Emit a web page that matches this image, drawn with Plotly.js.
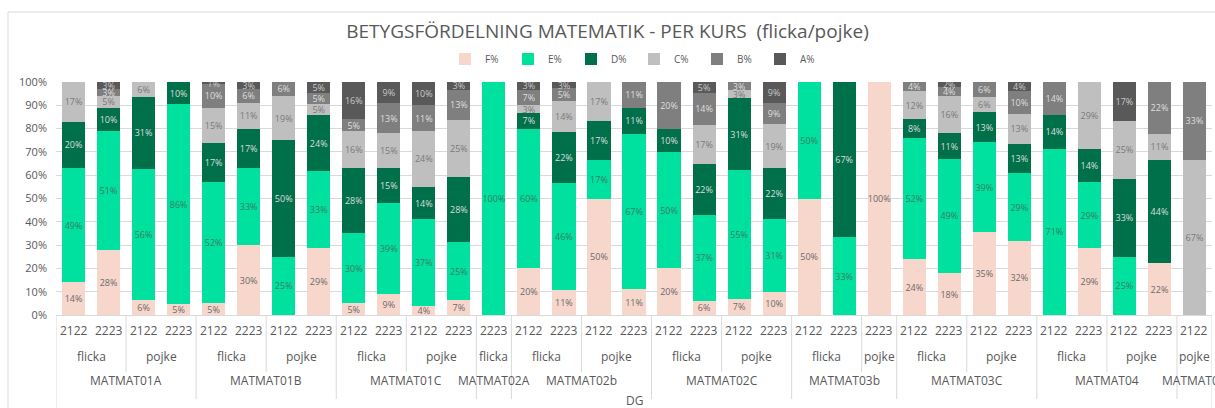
<!DOCTYPE html>
<html>
<head>
<meta charset="utf-8">
<script src="https://cdn.plot.ly/plotly-3.0.1.min.js"></script>
<style>html,body{margin:0;padding:0;background:#fff;}#chart{width:1215px;height:408px;}</style>
</head>
<body>
<div id="chart"></div>
<script>
// ---- data (per bar, left to right) ----
const courses = ['MATMAT01A','MATMAT01A','MATMAT01A','MATMAT01A',
  'MATMAT01B','MATMAT01B','MATMAT01B','MATMAT01B',
  'MATMAT01C','MATMAT01C','MATMAT01C','MATMAT01C',
  'MATMAT02A',
  'MATMAT02b','MATMAT02b','MATMAT02b','MATMAT02b',
  'MATMAT02C','MATMAT02C','MATMAT02C','MATMAT02C',
  'MATMAT03b','MATMAT03b','MATMAT03b',
  'MATMAT03C','MATMAT03C','MATMAT03C','MATMAT03C',
  'MATMAT04','MATMAT04','MATMAT04','MATMAT04',
  'MATMAT05'];
const genders = ['flicka','flicka','pojke','pojke',
  'flicka','flicka','pojke','pojke',
  'flicka','flicka','pojke','pojke',
  'flicka',
  'flicka','flicka','pojke','pojke',
  'flicka','flicka','pojke','pojke',
  'flicka','flicka','pojke',
  'flicka','flicka','pojke','pojke',
  'flicka','flicka','pojke','pojke',
  'pojke'];
const years = ['2122','2223','2122','2223',
  '2122','2223','2122','2223',
  '2122','2223','2122','2223',
  '2223',
  '2122','2223','2122','2223',
  '2122','2223','2122','2223',
  '2122','2223','2223',
  '2122','2223','2122','2223',
  '2122','2223','2122','2223',
  '2122'];
const F = [14,28,6.25,4.76, 5,30,0,28.57, 5,9,4,6.56, 0, 20,10.8,50,11.11, 20,6.15,6.9,10, 50,0,100, 24,18,35.48,31.9, 0,28.57,0,22.22, 0];
const E = [49,51,56.25,85.71, 52,33,25,33.33, 30,39,37,24.59, 100, 60,45.95,16.67,66.67, 50,36.92,55.17,31, 50,33.33,0, 52,49,38.71,28.9, 71.43,28.57,25,0, 0];
const D = [20,10,31.25,9.52, 17,17,50,23.81, 28,15,14,27.87, 0, 6.67,21.62,16.67,11.11, 10,21.54,31.03,22, 0,66.67,0, 8,11,12.9,12.8, 14.29,14.29,33.33,44.44, 0];
const C = [17,5,6.25,0, 15,11,19,4.76, 16,15,24,24.59, 0, 3.33,13.51,16.67,0, 0,16.92,3.45,19, 0,0,0, 12,16,6.45,12.8, 0,28.57,25,11.11, 66.67];
const B = [0,3,0,0, 10,6,6,4.76, 5,13,11,13.11, 0, 6.67,5.41,0,11.11, 20,13.85,3.45,9, 0,0,0, 4,4,6.45,9.6, 14.29,0,0,22.22, 33.33];
const A = [0,3,0,0, 1,3,0,4.76, 16,9,10,3.28, 0, 3.33,2.7,0,0, 0,4.62,0,9, 0,0,0, 0,2,0,4, 0,0,16.67,0, 0];
const seriesNames = ['F%','E%','D%','C%','B%','A%'];

// ---- styling ----
const seriesColors = ['#F7D6CC','#00E09E','#00704A','#BFBFBF','#7F7F7F','#595959'];
const textColors = ['#6b6b6b','#3d7d62','#dcdcdc','#7a7a7a','#dedede','#c8c8c8'];
const FONT = 'Open Sans, Lato, sans-serif';
const GRID = '#d9d9d9';
const plotH = 233; // px height of plot area

const xs = years.map((_, i) => i);
const vals = [F, E, D, C, B, A];
const traces = vals.map((v, k) => ({
  type: 'bar', x: xs, y: v, name: seriesNames[k],
  marker: {color: seriesColors[k]},
  texttemplate: '%{y:.0f}%',
  textposition: 'inside', insidetextanchor: 'middle', textangle: 0,
  textfont: {size: 9, color: textColors[k], family: FONT},
  hoverinfo: 'skip'
}));

function runs(keyFn) {
  const out = [];
  for (let i = 0; i < xs.length; i++) {
    const k = keyFn(i);
    if (out.length && out[out.length - 1].key === k) out[out.length - 1].end = i;
    else out.push({key: k, start: i, end: i});
  }
  return out;
}
const genderRuns = runs(i => courses[i] + '|' + genders[i]);
const courseRuns = runs(i => courses[i]);

const annotations = [];
const lblFont = {family: FONT, size: 12, color: '#595959'};
xs.forEach(i => annotations.push({xref: 'x', yref: 'paper', x: i, y: 0, yshift: -15, text: years[i],
  showarrow: false, font: lblFont, yanchor: 'middle'}));
genderRuns.forEach(r => annotations.push({xref: 'x', yref: 'paper', x: (r.start + r.end) / 2, y: 0, yshift: -41,
  text: genders[r.start], showarrow: false, font: lblFont, yanchor: 'middle'}));
courseRuns.forEach(r => annotations.push({xref: 'x', yref: 'paper', x: (r.start + r.end) / 2, y: 0, yshift: -65,
  text: courses[r.start], showarrow: false, font: lblFont, yanchor: 'middle'}));
annotations.push({xref: 'paper', yref: 'paper', x: 0.5, y: 0, yshift: -85, text: 'DG', showarrow: false,
  font: lblFont, yanchor: 'middle'});

const shapes = [];
const py = px => -px / plotH;
const courseBounds = new Set(courseRuns.map(r => r.start));
genderRuns.forEach(r => {
  if (r.start === 0) return;
  const isCourse = courseBounds.has(r.start);
  shapes.push({type: 'line', xref: 'x', yref: 'paper', x0: r.start - 0.5, x1: r.start - 0.5,
    y0: 0, y1: py(isCourse ? 84 : 57), line: {color: GRID, width: 1}});
});
[-0.5, xs.length - 0.5].forEach(x => shapes.push({type: 'line', xref: 'x', yref: 'paper', x0: x, x1: x,
  y0: 0, y1: py(95), line: {color: GRID, width: 1}}));
// outer chart border
shapes.push({type: 'rect', xref: 'paper', yref: 'paper', x0: -48 / 1156, x1: 1.02, y0: py(120), y1: 1 + 70 / plotH,
  line: {color: GRID, width: 1}, fillcolor: 'rgba(0,0,0,0)'});

const layout = {
  width: 1215, height: 408,
  margin: {l: 56, r: 3, t: 82, b: 93},
  paper_bgcolor: '#fff', plot_bgcolor: '#fff',
  font: {family: FONT, color: '#595959'},
  title: {text: 'BETYGSFÖRDELNING MATEMATIK - PER KURS  (flicka/pojke)', font: {size: 19, color: '#595959', family: FONT},
    x: 0.5, xanchor: 'center', y: 1 - 31 / 408, yanchor: 'middle'},
  barmode: 'stack', bargap: 0.34,
  uniformtext: {mode: 'show', minsize: 9},
  showlegend: true,
  legend: {orientation: 'h', x: 0.5, xanchor: 'center', y: 256 / plotH, yanchor: 'middle',
    font: {size: 10, color: '#595959', family: FONT}, itemwidth: 30, entrywidth: 18, entrywidthmode: 'pixels',
    traceorder: 'normal'},
  xaxis: {range: [-0.5, xs.length - 0.5], showticklabels: false, showgrid: false, zeroline: false,
    showline: true, linecolor: GRID, ticks: '', fixedrange: true},
  yaxis: {range: [0, 100], dtick: 10, ticksuffix: '%', showgrid: true, gridcolor: GRID, zeroline: false,
    tickfont: {size: 11, color: '#595959', family: FONT}, ticks: '', showline: false, ticklabelstandoff: 8},
  annotations: annotations, shapes: shapes
};
Plotly.newPlot('chart', traces, layout, {staticPlot: true, displayModeBar: false});
</script>
</body>
</html>
